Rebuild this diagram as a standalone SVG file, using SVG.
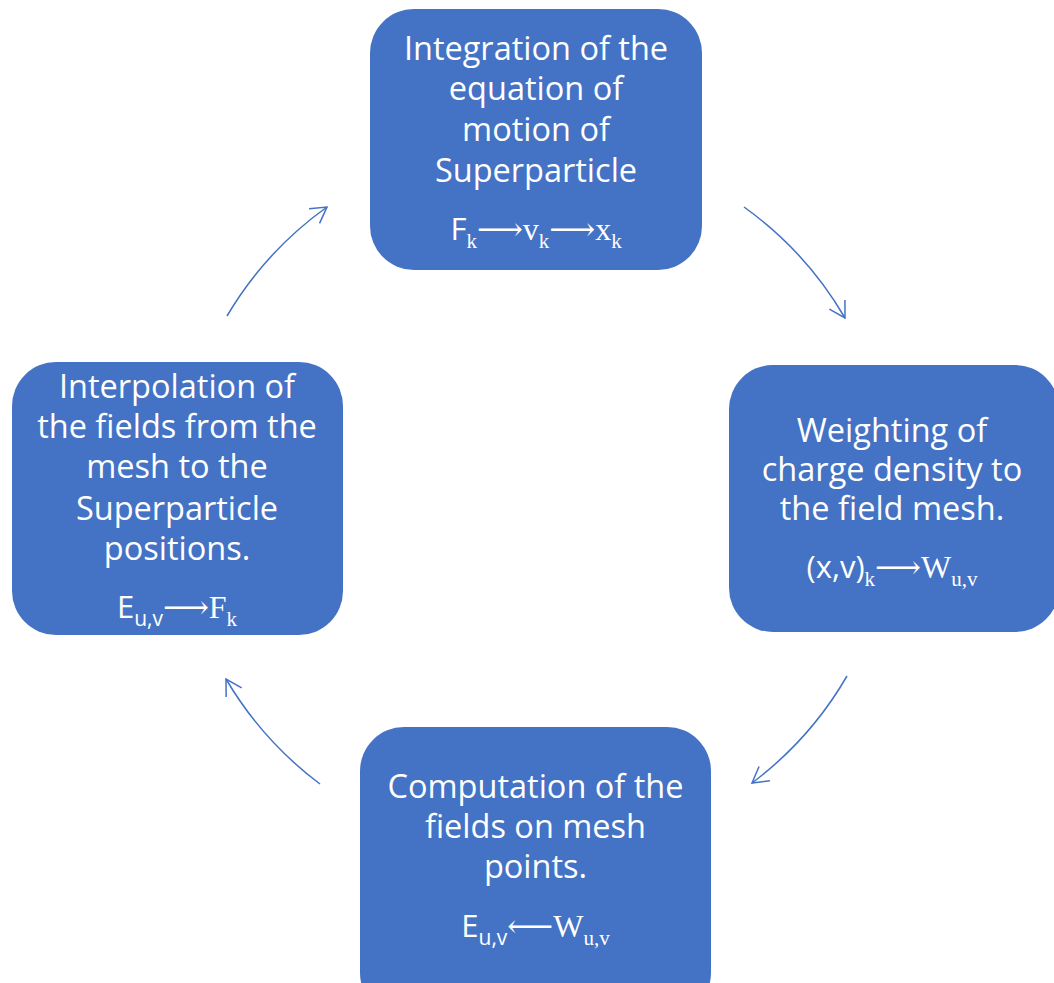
<svg xmlns="http://www.w3.org/2000/svg" width="1054" height="983" viewBox="0 0 1054 983">
<style>
.box{fill:#4472C4;}
.t{font-family:"Open Sans","Noto Sans",sans-serif;font-size:32.5px;fill:#ffffff;text-anchor:middle;}
.f{font-size:31px;}
.s{font-family:"Liberation Serif","DejaVu Serif","Times New Roman",serif;font-size:32px;}
.sub{font-size:21px;}
.conn{fill:none;stroke:#4472C4;stroke-width:1.5;}
</style>
<defs>
<marker id="ah" markerUnits="userSpaceOnUse" markerWidth="24" markerHeight="24" viewBox="-20 -12 24 24" refX="0" refY="0" orient="auto">
<path d="M-15.6,-9 L0,0 L-15.6,9" fill="none" stroke="#4472C4" stroke-width="1.5"/>
</marker>
</defs>
<rect width="1054" height="983" fill="#ffffff"/>
<g id="connectors">
<path class="conn" d="M744,207 A358,358 0 0 1 845,318" marker-end="url(#ah)"/>
<path class="conn" d="M847,676 A358,358 0 0 1 752,783" marker-end="url(#ah)"/>
<path class="conn" d="M320,784 A358,358 0 0 1 226,679" marker-end="url(#ah)"/>
<path class="conn" d="M227,316 A358,358 0 0 1 327,207" marker-end="url(#ah)"/>
</g>
<g id="node-integration">
<rect class="box" x="370" y="9" width="332" height="261" rx="44"/>
<text class="t" x="536" y="60">Integration of the</text>
<text class="t" x="536" y="100">equation of</text>
<text class="t" x="536" y="141">motion of</text>
<text class="t" x="536" y="182">Superparticle</text>
<text class="t f" x="536" y="240">F<tspan class="s sub" dy="8">k</tspan><tspan class="s" dy="-8">⟶v</tspan><tspan class="s sub" dy="8">k</tspan><tspan class="s" dy="-8">⟶x</tspan><tspan class="s sub" dy="8">k</tspan></text>
</g>
<g id="node-weighting">
<rect class="box" x="729" y="365" width="330" height="267" rx="44"/>
<text class="t" x="892" y="442">Weighting of</text>
<text class="t" x="892" y="481">charge density to</text>
<text class="t" x="892" y="520">the field mesh.</text>
<text class="t f" x="892" y="578">(x,v)<tspan class="s sub" dy="8">k</tspan><tspan class="s" dy="-8">⟶W</tspan><tspan class="s sub" dy="8">u,v</tspan></text>
</g>
<g id="node-computation">
<rect class="box" x="360" y="727" width="351" height="290" rx="44"/>
<text class="t" x="535.5" y="798">Computation of the</text>
<text class="t" x="535.5" y="838">fields on mesh</text>
<text class="t" x="535.5" y="878">points.</text>
<text class="t f" x="535.5" y="937">E<tspan class="sub" dy="8">u,v</tspan><tspan class="s" dy="-8">⟵W</tspan><tspan class="s sub" dy="8">u,v</tspan></text>
</g>
<g id="node-interpolation">
<rect class="box" x="12" y="362" width="331" height="273" rx="44"/>
<text class="t" x="177" y="398">Interpolation of</text>
<text class="t" x="177" y="438">the fields from the</text>
<text class="t" x="177" y="478">mesh to the</text>
<text class="t" x="177" y="520">Superparticle</text>
<text class="t" x="177" y="560">positions.</text>
<text class="t f" x="177" y="618">E<tspan class="sub" dy="8">u,v</tspan><tspan class="s" dy="-8">⟶F</tspan><tspan class="s sub" dy="8">k</tspan></text>
</g>
</svg>
